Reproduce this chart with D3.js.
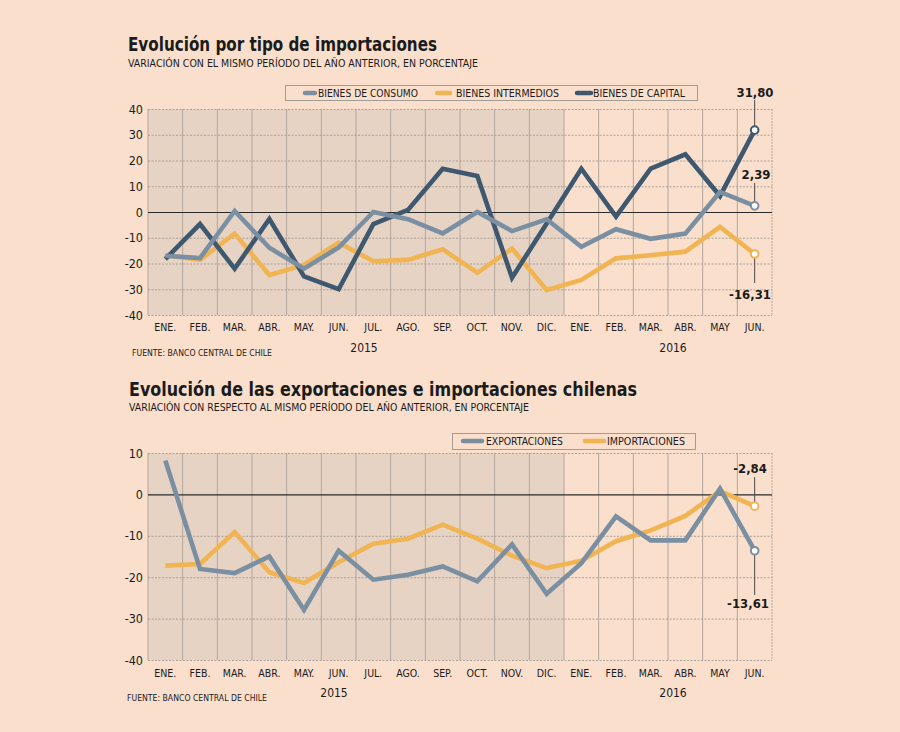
<!DOCTYPE html>
<html>
<head>
<meta charset="utf-8">
<script src="https://cdn.jsdelivr.net/npm/d3@7"></script>
<style>
  html, body { margin: 0; padding: 0; background: #f9dfcc; }
  svg { display: block; }
</style>
</head>
<body>
<svg id="chart" width="900" height="732"></svg>
<script>
// ---------- DATA ----------
const months = ["ENE.","FEB.","MAR.","ABR.","MAY.","JUN.","JUL.","AGO.","SEP.","OCT.","NOV.","DIC.","ENE.","FEB.","MAR.","ABR.","MAY","JUN."];
const years = ["2015", "2016"];

// Chart 1: Evolución por tipo de importaciones
const bienesConsumo     = [-17.0, -17.9, 0.4, -13.9, -22.0, -13.8, 0.0, -2.8, -8.3, 0.0, -7.4, -2.8, -13.5, -6.7, -10.4, -8.4, 7.8, 2.39];
const bienesIntermedios = [-16.8, -18.6, -8.4, -24.5, -20.5, -11.9, -19.1, -18.6, -14.5, -23.6, -14.2, -30.3, -26.4, -18.0, -16.8, -15.4, -5.8, -16.31];
const bienesCapital     = [-18.3, -4.7, -22.0, -2.7, -25.0, -30.0, -4.7, 0.8, 16.8, 14.0, -25.5, -4.5, 16.8, -1.8, 16.8, 22.4, 6.2, 31.80];
const yTicks1 = [-40, -30, -20, -10, 0, 10, 20, 30, 40];

// Chart 2: Evolución de las exportaciones e importaciones chilenas
const exportaciones = [8.2, -18.0, -19.0, -15.0, -27.9, -13.6, -20.6, -19.4, -17.4, -21.0, -12.1, -24.0, -16.6, -5.3, -11.1, -11.1, 1.4, -13.61];
const importaciones = [-17.2, -16.8, -9.1, -18.8, -21.4, -16.4, -11.9, -10.7, -7.3, -10.7, -14.8, -17.8, -16.0, -11.3, -8.7, -5.2, 0.8, -2.84];
const yTicks2 = [-40, -30, -20, -10, 0, 10];

const locale = d3.formatLocale({decimal: ",", thousands: ".", grouping: [3], currency: ["$", ""], minus: "-"});
const fmt = locale.format(".2f");
const fmtTick = locale.format("d");

// ---------- STYLE ----------
const BG = "#f9dfcc", SHADE = "#e6d3c4";
const C_CONS = "#7a8fa2", C_INT = "#f1b452", C_CAP = "#3e5870";
const FONT = "'DejaVu Sans Condensed', 'DejaVu Sans', sans-serif";
const TXT = "#1b1b1b";

const svg = d3.select("#chart");
svg.append("rect").attr("width", 900).attr("height", 732).attr("fill", BG);

function addText(g, o) {
  const t = g.append("text")
    .attr("x", o.x).attr("y", o.y)
    .attr("font-family", FONT)
    .attr("font-size", o.size)
    .attr("font-weight", o.weight || "normal")
    .attr("fill", o.fill || TXT)
    .attr("text-anchor", o.anchor || "start")
    .text(o.text);
  if (o.len) t.attr("textLength", o.len).attr("lengthAdjust", "spacingAndGlyphs");
  return t;
}

function drawChart(cfg) {
  const g = svg.append("g");
  const x = d3.scaleBand().domain(d3.range(months.length)).range([cfg.left, cfg.right]);
  const cx = i => x(i) + x.bandwidth() / 2;
  const y = d3.scaleLinear().domain(cfg.domain).range([cfg.bottom, cfg.top]);

  // shaded 2015
  g.append("rect")
    .attr("x", x(0)).attr("y", cfg.top)
    .attr("width", x(12) - x(0)).attr("height", cfg.bottom - cfg.top)
    .attr("fill", SHADE);

  // vertical grid at column boundaries
  const bounds = d3.range(months.length + 1).map(i => cfg.left + i * x.step());
  g.selectAll(".vg").data(bounds).join("line")
    .attr("x1", d => d).attr("x2", d => d)
    .attr("y1", cfg.top).attr("y2", cfg.bottom)
    .attr("stroke", (d, i) => i === months.length ? "#b7aaa0" : "#b3a69c")
    .attr("stroke-width", 1)
    .attr("stroke-dasharray", (d, i) => i === months.length ? "2,1" : null);

  // horizontal grid + y labels
  const yAxis = d3.axisLeft(y).tickValues(cfg.ticks).tickSize(-(cfg.right - cfg.left)).tickPadding(5).tickFormat(fmtTick);
  const ya = g.append("g").attr("transform", `translate(${cfg.left},0)`).call(yAxis);
  ya.select(".domain").remove();
  ya.selectAll(".tick line")
    .attr("stroke", d => d === 0 ? "#2a2a2a" : "#a39b94")
    .attr("stroke-width", d => d === 0 ? 1.2 : 0.9)
    .attr("stroke-dasharray", d => d === 0 ? null : "2,1.5");
  ya.selectAll(".tick text")
    .attr("font-family", FONT).attr("font-size", 12.5).attr("fill", TXT);

  // month axis
  const xAxis = d3.axisBottom(x).tickSize(0).tickPadding(cfg.monthPad).tickFormat(i => months[i]);
  const xa = g.append("g").attr("transform", `translate(0,${cfg.bottom})`).call(xAxis);
  xa.select(".domain").remove();
  xa.selectAll(".tick text").attr("font-family", FONT).attr("font-size", 10.5).attr("fill", TXT);

  // year labels
  addText(g, {x: cfg.year1X, y: cfg.yearY, text: years[0], size: 12, anchor: "middle"});
  addText(g, {x: cfg.year2X, y: cfg.yearY, text: years[1], size: 12, anchor: "middle"});

  // lines
  const line = d3.line().x((d, i) => cx(i)).y(d => y(d));
  cfg.series.forEach(s => {
    g.append("path").datum(s.values)
      .attr("d", line)
      .attr("fill", "none")
      .attr("stroke", s.color)
      .attr("stroke-width", 4.6)
      .attr("stroke-linejoin", "miter")
      .attr("stroke-linecap", "butt");
  });

  // annotations
  const last = months.length - 1;
  cfg.series.forEach(s => {
    const v = s.values[last];
    const py = y(v);
    const px = cx(last);
    const a = s.ann;
    g.append("line")
      .attr("x1", px).attr("x2", px)
      .attr("y1", a.above ? a.lineEnd : py + 4)
      .attr("y2", a.above ? py - 4 : a.lineEnd)
      .attr("stroke", "#4a4a4a").attr("stroke-width", 1);
    g.append("circle").attr("cx", px).attr("cy", py).attr("r", 3.8)
      .attr("fill", "#ffffff").attr("stroke", s.color).attr("stroke-width", 2);
    addText(g, {x: a.tx, y: a.ty, text: fmt(v), size: 13, weight: "bold", anchor: "middle"});
  });

  // legend
  const L = cfg.legend;
  g.append("rect").attr("x", L.x).attr("y", L.y).attr("width", L.w).attr("height", L.h)
    .attr("fill", "none").attr("stroke", "#a29c96").attr("stroke-width", 1);
  L.items.forEach(it => {
    g.append("line").attr("x1", it.sx).attr("x2", it.sx + it.sw)
      .attr("y1", L.cy).attr("y2", L.cy)
      .attr("stroke", it.color).attr("stroke-width", 4.5).attr("stroke-linecap", "round");
    addText(g, {x: it.tx, y: L.ty, text: it.label, size: 10, len: it.len});
  });

  // titles
  addText(g, {x: cfg.titleX, y: cfg.titleY, text: cfg.title, size: 20, weight: "bold", len: cfg.titleLen});
  addText(g, {x: cfg.titleX, y: cfg.subY, text: cfg.subtitle, size: 10, len: cfg.subLen});
  addText(g, {x: cfg.srcX, y: cfg.srcY, text: "FUENTE: BANCO CENTRAL DE CHILE", size: 8.5, len: 140});
}

drawChart({
  left: 148, right: 772, top: 109, bottom: 315, domain: [-40, 40], ticks: yTicks1,
  monthPad: 8.5, yearY: 352, year1X: 364, year2X: 673,
  title: "Evolución por tipo de importaciones", titleX: 128, titleY: 51, titleLen: 309,
  subtitle: "VARIACIÓN CON EL MISMO PERÍODO DEL AÑO ANTERIOR, EN PORCENTAJE", subY: 67, subLen: 350,
  srcX: 132, srcY: 356,
  series: [
    {values: bienesIntermedios, color: C_INT, ann: {above: false, lineEnd: 283, tx: 750, ty: 299}},
    {values: bienesCapital, color: C_CAP, ann: {above: true, lineEnd: 100, tx: 755, ty: 97}},
    {values: bienesConsumo, color: C_CONS, ann: {above: true, lineEnd: 183, tx: 756, ty: 179}}
  ],
  legend: {x: 285.5, y: 85.5, w: 412, h: 15, cy: 93, ty: 96.5, items: [
    {sx: 305, sw: 10, tx: 318, label: "BIENES DE CONSUMO", color: C_CONS, len: 100},
    {sx: 437, sw: 13, tx: 456, label: "BIENES INTERMEDIOS", color: C_INT, len: 103},
    {sx: 577, sw: 14, tx: 593, label: "BIENES DE CAPITAL", color: C_CAP, len: 92}
  ]}
});

drawChart({
  left: 148, right: 772, top: 453, bottom: 660, domain: [-40, 10], ticks: yTicks2,
  monthPad: 9.5, yearY: 697, year1X: 334, year2X: 673,
  title: "Evolución de las exportaciones e importaciones chilenas", titleX: 129, titleY: 396, titleLen: 508,
  subtitle: "VARIACIÓN CON RESPECTO AL MISMO PERÍODO DEL AÑO ANTERIOR, EN PORCENTAJE", subY: 411, subLen: 400,
  srcX: 127, srcY: 701,
  series: [
    {values: importaciones, color: C_INT, ann: {above: true, lineEnd: 477, tx: 750, ty: 473}},
    {values: exportaciones, color: C_CONS, ann: {above: false, lineEnd: 595, tx: 748, ty: 608}}
  ],
  legend: {x: 452.5, y: 433.5, w: 243, h: 16, cy: 441, ty: 445, items: [
    {sx: 463, sw: 19, tx: 486, label: "EXPORTACIONES", color: C_CONS, len: 77},
    {sx: 585, sw: 19, tx: 607, label: "IMPORTACIONES", color: C_INT, len: 78}
  ]}
});
</script>
</body>
</html>
